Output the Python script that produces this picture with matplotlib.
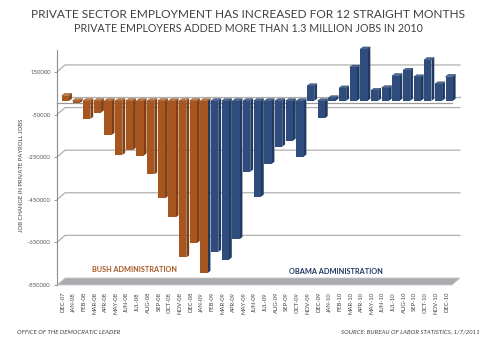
import numpy as np
import matplotlib
matplotlib.use("Agg")
import matplotlib.pyplot as plt
from matplotlib.patches import Polygon
from matplotlib.transforms import ScaledTranslation

plt.rcParams['font.family'] = ['Lato', 'DejaVu Sans']

months = ["DEC-07", "JAN-08", "FEB-08", "MAR-08", "APR-08", "MAY-08", "JUN-08",
          "JUL-08", "AUG-08", "SEP-08", "OCT-08", "NOV-08", "DEC-08", "JAN-09",
          "FEB-09", "MAR-09", "APR-09", "MAY-09", "JUN-09", "JUL-09", "AUG-09",
          "SEP-09", "OCT-09", "NOV-09", "DEC-09", "JAN-10", "FEB-10", "MAR-10",
          "APR-10", "MAY-10", "JUN-10", "JUL-10", "AUG-10", "SEP-10", "OCT-10",
          "NOV-10", "DEC-10"]
jobs = [25000, -10000, -85000, -55000, -160000, -254000, -230000,
        -257000, -345000, -458000, -547000, -735000, -667000, -808000,
        -709000, -745000, -649000, -333000, -450000, -296000, -215000,
        -187000, -262000, 70000, -81000, 14000, 60000, 158000,
        243000, 49000, 61000, 118000, 143000, 112000, 193000,
        79000, 114000]
admin = ["bush"] * 14 + ["obama"] * 23
ticks = [150000, -50000, -250000, -450000, -650000, -850000]

front = {"bush": "#a8561f", "obama": "#2f4d7c"}
side = {"bush": "#7e3f15", "obama": "#223a60"}
top = {"bush": "#c47a40", "obama": "#4d6a96"}

W, H = 500, 343
fig = plt.figure(figsize=(W / 100, H / 100), dpi=100)
fig.patch.set_facecolor("white")

# front axis: x from 57px to 452px, y from 285px (bottom) to 50px (top)
ax = fig.add_axes([57 / W, 1 - 285 / H, 395 / W, 235 / H])
ax.set_xlim(-0.56, 36.5)
ax.set_ylim(-850000, 253000)
ax.set_facecolor("none")
for s in ["top", "right", "bottom"]:
    ax.spines[s].set_visible(False)
ax.spines["left"].set_color("#8c8c8c")
ax.spines["left"].set_linewidth(0.8)

ux = 395 / (36.5 + 0.56)            # px per category
uy = 235 / (253000 + 850000)        # px per job

# back wall offset
bdx, bdy = 8 / ux, 7 / uy
x0, x1 = -0.56, 36.5
for v in ticks[:-1] + [0]:
    if v == 0:
        xs = [x0 + bdx, x1 + bdx]
        ys = [v + bdy, v + bdy]
    else:
        xs = [x0, x0 + bdx, x1 + bdx]
        ys = [v, v + bdy, v + bdy]
    ax.plot(xs, ys, color="#b0b0b0", lw=0.9, clip_on=False, zorder=1)

# floor
floor = Polygon([(x0, -850000), (x0 + bdx, -850000 + bdy), (x1 + bdx, -850000 + bdy),
                 (x1, -850000)], closed=True, facecolor="#a9abae", edgecolor="#c8c9cb",
                lw=0.6, clip_on=False, zorder=2)
ax.add_patch(floor)

# bars at mid depth
bt = ax.transData + ScaledTranslation(2.5 / 100, 3 / 100, fig.dpi_scale_trans)
w = 0.68
sdx, sdy = 2.8 / ux, 2.2 / uy
xpos = np.arange(len(months))
for i, (v, a) in enumerate(zip(jobs, admin)):
    lo, hi = min(0, v), max(0, v)
    l, r = xpos[i] - w / 2, xpos[i] + w / 2
    sc = side["obama"] if months[i] == "JAN-09" else side[a]
    ax.add_patch(Polygon([(r, lo), (r + sdx, lo + sdy), (r + sdx, hi + sdy), (r, hi)],
                         closed=True, facecolor=sc, edgecolor="none",
                         transform=bt, clip_on=False, zorder=3))
    ax.add_patch(Polygon([(l, hi), (l + sdx, hi + sdy), (r + sdx, hi + sdy), (r, hi)],
                         closed=True, facecolor=top[a], edgecolor=side[a], lw=0.3,
                         transform=bt, clip_on=False, zorder=3))
    ax.bar(xpos[i], hi - lo, bottom=lo, width=w, color=front[a], edgecolor="none",
           transform=bt, clip_on=False, zorder=4)

# zero line at front
ax.plot([x0, x1], [0, 0], color="#9a9a9a", lw=0.9, transform=ax.transData +
        ScaledTranslation(0, 1.2 / 100, fig.dpi_scale_trans), clip_on=False, zorder=2.5)

ax.set_yticks(ticks)
ax.set_yticklabels([str(t) for t in ticks], fontsize=4.3, color="#595959")
ax.tick_params(axis="y", length=2.5, width=0.6, color="#8c8c8c", pad=2)
ax.set_xticks(xpos)
ax.set_xticklabels(months, rotation=90, fontsize=4.2, color="#404040")
ax.tick_params(axis="x", length=0, pad=5)

fig.text(22 / W, 1 - 175 / H, "JOB CHANGE IN PRIVATE PAYROLL JOBS", rotation=90,
         fontsize=4.3, color="#404040", ha="center", va="center")

fig.text(248 / W, 1 - 14 / H, "PRIVATE SECTOR EMPLOYMENT HAS INCREASED FOR 12 STRAIGHT MONTHS",
         fontsize=8.6, color="#404040", ha="center", va="center")
fig.text(248 / W, 1 - 29 / H, "PRIVATE EMPLOYERS ADDED MORE THAN 1.3 MILLION JOBS IN 2010",
         fontsize=7.7, color="#404040", ha="center", va="center")

fig.text(134 / W, 1 - 270 / H, "BUSH ADMINISTRATION", fontsize=5.2, fontweight="bold",
         color="#a8561f", ha="center", va="center")
fig.text(336 / W, 1 - 272 / H, "OBAMA ADMINISTRATION", fontsize=5.3, fontweight="bold",
         color="#1f3864", ha="center", va="center")

fig.text(17 / W, 1 - 332 / H, "OFFICE OF THE DEMOCRATIC LEADER", fontsize=4.4,
         style="italic", color="#404040", ha="left", va="center")
fig.text(480 / W, 1 - 332 / H, "SOURCE: BUREAU OF LABOR STATISTICS, 1/7/2011", fontsize=4.4,
         style="italic", color="#404040", ha="right", va="center")

fig.savefig("out.png", dpi=100)
